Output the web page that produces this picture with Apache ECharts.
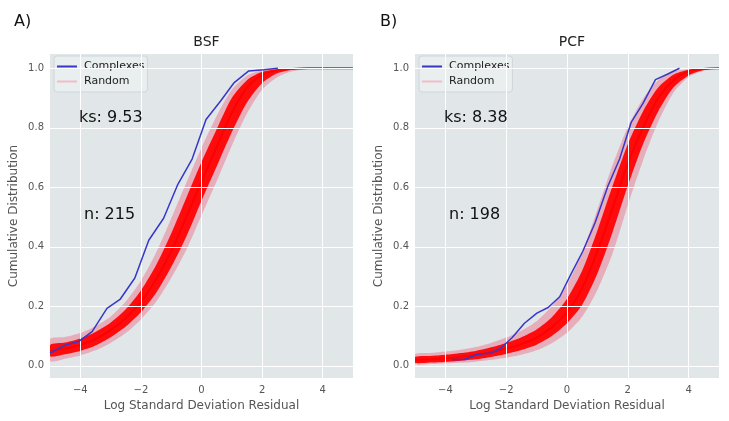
<!DOCTYPE html>
<html>
<head>
<meta charset="utf-8">
<script src="https://cdn.jsdelivr.net/npm/echarts@6/dist/echarts.min.js"></script>
<style>html,body{margin:0;padding:0;background:#fff;}#c{width:729px;height:421px;}</style>
</head>
<body>
<div id="c"></div>
<script>
// ---- data ----
const xTicks = [-4, -2, 0, 2, 4];
const yTicks = [0, 0.2, 0.4, 0.6, 0.8, 1.0];
const panelTitles = ['BSF', 'PCF'];
const panelLetters = ['A)', 'B)'];
const ksTexts = ['ks: 9.53', 'ks: 8.38'];
const nTexts = ['n: 215', 'n: 198'];

// common x grid of the random band
const bandX = [-5,-4.5,-4,-3.5,-3,-2.5,-2,-1.5,-1,-0.5,0,0.5,1,1.5,2,2.5,3,3.5,4,4.5,5];

// Panel A (BSF) random band: faint outer edges, dense inner edges, centre
const aOuterHi = [0.09,0.097,0.11,0.133,0.166,0.216,0.286,0.38,0.495,0.615,0.733,0.84,0.928,0.975,0.994,1,1,1,1,1,1];
const aInnerHi = [0.07,0.078,0.092,0.114,0.145,0.19,0.253,0.338,0.445,0.565,0.685,0.795,0.9,0.96,0.988,0.997,1,1,1,1,1];
const aCenter  = [0.05,0.058,0.07,0.09,0.12,0.16,0.215,0.29,0.385,0.5,0.62,0.735,0.85,0.935,0.978,0.993,0.998,1,1,1,1];
const aInnerLo = [0.032,0.039,0.05,0.068,0.096,0.132,0.18,0.245,0.332,0.435,0.555,0.67,0.785,0.885,0.95,0.983,0.995,0.999,1,1,1];
const aOuterLo = [0.016,0.024,0.035,0.052,0.077,0.11,0.156,0.215,0.295,0.39,0.505,0.62,0.74,0.848,0.928,0.97,0.99,0.997,1,1,1];
// Panel A complexes
const aBlueX = [-5.0,-4.54,-4.05,-3.61,-3.12,-2.69,-2.2,-1.74,-1.25,-0.78,-0.31,0.15,0.63,1.08,1.56,2.05,2.52];
const aBlueY = [0.043,0.068,0.082,0.115,0.193,0.223,0.295,0.422,0.496,0.61,0.695,0.828,0.89,0.952,0.991,0.995,1.0];

// Panel B (PCF) random band
const bOuterHi = [0.039,0.043,0.048,0.054,0.063,0.077,0.095,0.118,0.15,0.2,0.272,0.38,0.525,0.675,0.803,0.898,0.96,0.989,0.998,1,1];
const bInnerHi = [0.03,0.033,0.037,0.043,0.05,0.062,0.077,0.096,0.122,0.163,0.225,0.32,0.455,0.605,0.745,0.855,0.935,0.978,0.995,1,1];
const bCenter  = [0.02,0.022,0.025,0.03,0.036,0.046,0.058,0.073,0.095,0.13,0.18,0.26,0.385,0.53,0.68,0.8,0.9,0.96,0.99,0.998,1];
const bInnerLo = [0.01,0.011,0.013,0.017,0.022,0.03,0.04,0.053,0.071,0.1,0.143,0.205,0.31,0.45,0.605,0.745,0.855,0.935,0.976,0.994,1];
const bOuterLo = [0.005,0.006,0.008,0.01,0.014,0.02,0.027,0.037,0.052,0.076,0.111,0.165,0.255,0.378,0.54,0.69,0.82,0.918,0.971,0.992,1];
// Panel B complexes
const bBlueX = [-3.8,-3.38,-2.95,-2.5,-2.19,-1.8,-1.4,-0.99,-0.62,-0.24,0.14,0.52,0.92,1.35,1.73,2.11,2.5,2.91,3.3,3.7];
const bBlueY = [0.021,0.021,0.039,0.043,0.058,0.095,0.143,0.177,0.196,0.232,0.31,0.385,0.48,0.605,0.695,0.818,0.882,0.962,0.98,1.0];

// ---- build options ----
const FONT = 'DejaVu Sans';
const grids = [
  {left: 50, top: 54, width: 303, height: 324},
  {left: 415, top: 54, width: 304, height: 324}
];
const pairs = (xs, ys) => xs.map((x, i) => [x, ys[i]]);

function axisX(i) {
  return {
    gridIndex: i, type: 'value', min: -5, max: 5,
    splitLine: {show: false}, axisLine: {show: false},
    axisTick: {show: true, customValues: xTicks, length: 4, lineStyle: {color: '#555', width: 1}},
    axisLabel: {customValues: xTicks, color: '#555', fontSize: 10, fontFamily: FONT, margin: 7,
      formatter: v => v < 0 ? '\u2212' + Math.abs(v) : String(v)},
    name: 'Log Standard Deviation Residual', nameLocation: 'middle', nameGap: 21,
    nameTextStyle: {color: '#555', fontSize: 12, fontFamily: FONT}
  };
}
function axisY(i) {
  return {
    gridIndex: i, type: 'value', min: -0.041, max: 1.048,
    splitLine: {show: false}, axisLine: {show: false},
    axisTick: {show: true, customValues: yTicks, length: 4, lineStyle: {color: '#555', width: 1}},
    axisLabel: {customValues: yTicks, color: '#555', fontSize: 10, fontFamily: FONT, margin: 6,
      formatter: v => v.toFixed(1)},
    name: 'Cumulative Distribution', nameLocation: 'middle', nameGap: 30,
    nameTextStyle: {color: '#555', fontSize: 12, fontFamily: FONT}
  };
}

// band polygon drawn through the axis scales (api.coord)
function bandSeries(i, hi, lo, color, z) {
  return {
    type: 'custom', xAxisIndex: i, yAxisIndex: i, silent: true, clip: true, z: z,
    data: [[bandX[0], lo[0]]],
    renderItem: function (params, api) {
      const pts = [];
      for (let k = 0; k < bandX.length; k++) pts.push(api.coord([bandX[k], hi[k]]));
      for (let k = bandX.length - 1; k >= 0; k--) pts.push(api.coord([bandX[k], lo[k]]));
      return {type: 'polygon', shape: {points: pts, smooth: 0.25}, style: {fill: color, stroke: null}};
    }
  };
}

function panelSeries(i, oHi, iHi, ctr, iLo, oLo, bx, by) {
  const base = {type: 'line', xAxisIndex: i, yAxisIndex: i, showSymbol: false, symbol: 'none',
    silent: true, animation: false};
  return [
    Object.assign({}, base, {
      name: 'grid' + i, data: pairs(bandX, ctr), z: 1, lineStyle: {opacity: 0, width: 0},
      markLine: {silent: true, symbol: 'none', animation: false, label: {show: false},
        lineStyle: {color: '#ffffff', width: 1, type: 'solid', opacity: 1},
        data: xTicks.map(v => ({xAxis: v})).concat(yTicks.map(v => ({yAxis: v})))}
    }),
    bandSeries(i, oHi, oLo, 'rgba(245,30,70,0.28)', 2),
    bandSeries(i, iHi, iLo, 'rgba(255,0,0,0.93)', 3),
    Object.assign({}, base, {name: 'Random', data: pairs(bandX, ctr), smooth: 0.3, z: 4,
      lineStyle: {color: '#ff0000', width: 2, opacity: 1}, itemStyle: {color: '#ff0000'}}),
    Object.assign({}, base, {name: 'Complexes', data: pairs(bx, by), smooth: false, z: 6,
      lineStyle: {color: '#3737c8', width: 1.5}, itemStyle: {color: '#3737c8'}})
  ];
}

function legend(i) {
  return {
    left: grids[i].left + 4, top: 56, orient: 'vertical',
    backgroundColor: 'rgba(234,238,240,0.9)', borderColor: '#cfd6d9', borderWidth: 1, borderRadius: 3,
    padding: [4, 3, 4, 3], itemGap: 2, itemWidth: 20, itemHeight: 2, icon: 'rect',
    selectedMode: false,
    textStyle: {color: '#222', fontSize: 11, fontFamily: FONT, lineHeight: 13, padding: [0, 0, 0, 2]},
    data: [
      {name: 'Complexes', itemStyle: {color: '#3737c8'}},
      {name: 'Random', itemStyle: {color: '#f2bcc6'}}
    ]
  };
}

const titles = [];
const graphics = [];
for (let i = 0; i < 2; i++) {
  const g = grids[i];
  titles.push({text: panelTitles[i], left: g.left + g.width / 2, top: 30, textAlign: 'center',
    textStyle: {fontSize: 14, fontWeight: 'normal', color: '#222', fontFamily: FONT}});
  titles.push({text: panelLetters[i], left: i === 0 ? 9 : 375, top: 9,
    textStyle: {fontSize: 16, fontWeight: 'normal', color: '#111', fontFamily: FONT}});
  graphics.push({type: 'text', left: g.left + 29, top: 110, z: 50,
    style: {text: ksTexts[i], font: '16px ' + FONT, fill: '#111'}});
  graphics.push({type: 'text', left: g.left + 34, top: 207, z: 50,
    style: {text: nTexts[i], font: '16px ' + FONT, fill: '#111'}});
}

const option = {
  backgroundColor: '#ffffff',
  animation: false,
  title: titles,
  grid: grids.map(g => Object.assign({show: true, backgroundColor: '#e1e6e9', borderWidth: 0}, g)),
  xAxis: [axisX(0), axisX(1)],
  yAxis: [axisY(0), axisY(1)],
  legend: [legend(0), legend(1)],
  graphic: graphics,
  series: panelSeries(0, aOuterHi, aInnerHi, aCenter, aInnerLo, aOuterLo, aBlueX, aBlueY)
    .concat(panelSeries(1, bOuterHi, bInnerHi, bCenter, bInnerLo, bOuterLo, bBlueX, bBlueY))
};

const chart = echarts.init(document.getElementById('c'), null, {renderer: 'canvas'});
chart.setOption(option);
</script>
</body>
</html>
